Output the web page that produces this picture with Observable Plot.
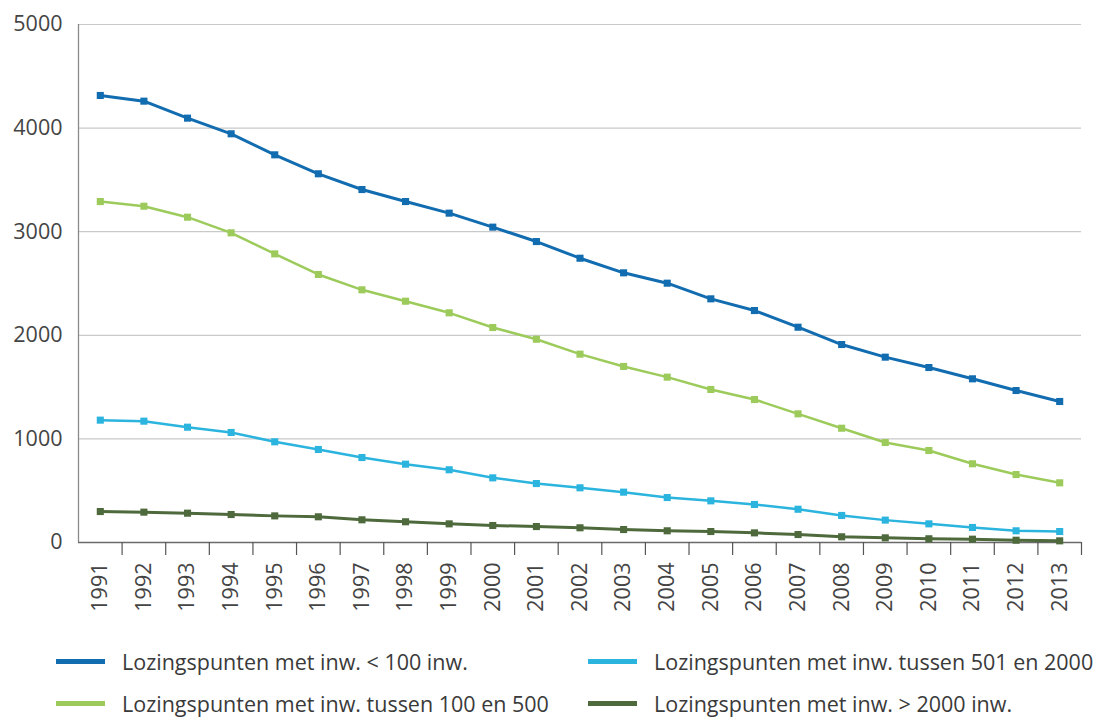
<!DOCTYPE html>
<html>
<head>
<meta charset="utf-8">
<script src="https://cdn.jsdelivr.net/npm/d3@7"></script>
<script src="https://cdn.jsdelivr.net/npm/@observablehq/plot@0.6"></script>
<style>
  body { margin: 0; background: #fff; font-family: "Open Sans", sans-serif; }
  #wrap { position: relative; width: 1105px; height: 718px; overflow: hidden; }
  .leg { position: absolute; display: flex; align-items: center; font-size: 21.5px; color: #3a3a3a; white-space: nowrap; }
  .sw { width: 49px; height: 5px; margin-right: 17px; }
</style>
</head>
<body>
<div id="wrap"><div id="chart"></div></div>
<script>
const years = [1991,1992,1993,1994,1995,1996,1997,1998,1999,2000,2001,2002,2003,2004,2005,2006,2007,2008,2009,2010,2011,2012,2013];
const seriesNames = [
  "Lozingspunten met inw. < 100 inw.",
  "Lozingspunten met inw. tussen 100 en 500",
  "Lozingspunten met inw. tussen 501 en 2000",
  "Lozingspunten met inw. > 2000 inw."
];
const seriesColors = ["#126cb0", "#9ccb5b", "#2bb4de", "#4e6a3c"];
const lt100   = [4315,4260,4096,3945,3742,3559,3407,3291,3179,3044,2905,2744,2603,2503,2352,2239,2078,1911,1789,1689,1580,1467,1361];
const t100_500 = [3291,3246,3140,2989,2786,2587,2439,2329,2217,2075,1962,1818,1699,1596,1477,1380,1242,1103,965,888,760,656,576];
const t501_2000 = [1181,1171,1113,1062,972,898,820,756,702,624,569,528,486,434,402,367,321,261,216,180,145,113,106];
const gt2000  = [299,293,283,270,257,248,219,200,180,164,154,142,125,113,106,93,77,55,45,36,32,22,16];
const yTicks = [0,1000,2000,3000,4000,5000];

const allSeries = [lt100, t100_500, t501_2000, gt2000];
const data = [];
allSeries.forEach((vals, si) => vals.forEach((v, i) => data.push({year: years[i], value: v, series: seriesNames[si]})));

const xDomain = [years[0] - 0.5, years[years.length - 1] + 0.5];
const boundaries = years.map(y => y + 0.5);
const strokeWidths = [3, 2.5, 2.5, 3];

const marks = [
  Plot.gridY(yTicks.filter(d => d > 0), {stroke: "#c9c9c9", strokeOpacity: 1, strokeWidth: 1.2}),
  Plot.ruleX([xDomain[0]], {stroke: "#8a8a8a", strokeWidth: 1.3}),
  Plot.ruleY([0], {stroke: "#6a6a6a", strokeWidth: 1.3}),
  Plot.axisY({ticks: yTicks, tickSize: 0, tickPadding: 16, fontSize: 21.5, color: "#444", tickFormat: d => String(d), label: null}),
  Plot.axisX({ticks: boundaries, tickSize: 13, tickFormat: () => "", stroke: "#555", strokeWidth: 1.2, label: null}),
  Plot.axisX({ticks: years, tickSize: 0, tickPadding: 20, tickRotate: -90, fontSize: 21.5, color: "#444", tickFormat: d => String(d), label: null})
];
seriesNames.forEach((name, si) => {
  const sub = data.filter(d => d.series === name);
  marks.push(Plot.line(sub, {x: "year", y: "value", stroke: seriesColors[si], strokeWidth: strokeWidths[si]}));
  marks.push(Plot.dot(sub, {x: "year", y: "value", fill: seriesColors[si], stroke: "none", symbol: "square", r: 4}));
});

const chart = Plot.plot({
  width: 1105,
  height: 630,
  marginTop: 24,
  marginBottom: 88,
  marginLeft: 78,
  marginRight: 24,
  style: {fontFamily: "'Open Sans', sans-serif", background: "#fff"},
  x: {domain: xDomain, axis: null},
  y: {domain: [0, 5000], axis: null},
  marks
});
document.getElementById("chart").appendChild(chart);

const legendPos = [
  {left: 56, top: 661},
  {left: 56, top: 703},
  {left: 588, top: 661},
  {left: 588, top: 703}
];
const wrap = document.getElementById("wrap");
seriesNames.forEach((name, si) => {
  const el = document.createElement("div");
  el.className = "leg";
  el.style.left = legendPos[si].left + "px";
  el.style.top = (legendPos[si].top - 15) + "px";
  el.style.height = "30px";
  const sw = document.createElement("div");
  sw.className = "sw";
  sw.style.background = seriesColors[si];
  el.appendChild(sw);
  const t = document.createElement("span");
  t.textContent = name;
  el.appendChild(t);
  wrap.appendChild(el);
});
</script>
</body>
</html>
